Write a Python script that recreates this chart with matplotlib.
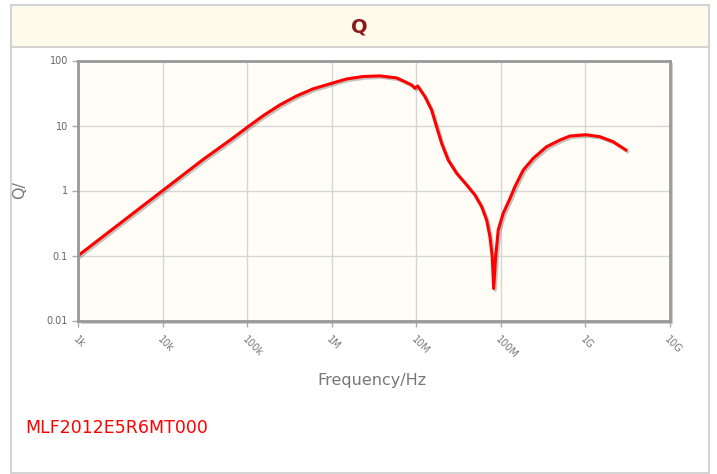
import matplotlib
matplotlib.use("Agg")
import matplotlib.pyplot as plt
import matplotlib.patches as mpatches
import matplotlib.patheffects as pe

# values
freq_hz = [1e3, 3e3, 1e4, 3e4, 6.2e4, 1e5, 1.55e5, 2.44e5, 3.84e5, 6.04e5,
           1.01e6, 1.5e6, 2.36e6, 3.7e6, 5.86e6, 7.35e6, 8.83e6, 9.66e6, 1.04e7,
           1.27e7, 1.52e7, 1.74e7, 2.0e7, 2.39e7, 3.01e7, 3.95e7, 4.95e7,
           5.94e7, 6.81e7, 7.45e7, 7.93e7, 8.24e7, 8.71e7, 9.34e7, 1.07e8,
           1.29e8, 1.47e8, 1.85e8, 2.43e8, 3.49e8, 5.02e8, 6.59e8, 1.02e9,
           1.49e9, 2.14e9, 3.03e9]
q_vals = [0.1, 0.3, 1.0, 3.0, 5.9, 9.4, 14.2, 20.8, 28.5, 36.7,
          44.8, 52, 56.7, 58, 54, 47.2, 42.0, 37.4, 40.5,
          27.7, 17.3, 9.6, 5.3, 2.94, 1.84, 1.22, 0.853,
          0.564, 0.352, 0.195, 0.096, 0.031, 0.096, 0.247, 0.446,
          0.759, 1.14, 2.07, 3.13, 4.72, 5.98, 6.89, 7.21,
          6.73, 5.63, 4.2]

x_ticks = [1e3, 1e4, 1e5, 1e6, 1e7, 1e8, 1e9, 1e10]
x_labels = ['1k', '10k', '100k', '1M', '10M', '100M', '1G', '10G']
y_ticks = [0.01, 0.1, 1, 10, 100]
y_labels = ['0.01', '0.1', '1', '10', '100']

W, H = 717, 474
fig = plt.figure(figsize=(W / 100, H / 100), dpi=100)

def fx(px):
    return px / W

def fy(py):
    return 1 - py / H

# outer frame and title band
fig.patches.append(mpatches.Rectangle((fx(10.7), fy(472.7)), fx(708.7) - fx(10.7), fy(5) - fy(472.7),
                                      transform=fig.transFigure, facecolor='white',
                                      edgecolor='#d4d4d4', lw=1.5, zorder=-3))
fig.patches.append(mpatches.Rectangle((fx(10.7), fy(47)), fx(708.7) - fx(10.7), fy(5) - fy(47),
                                      transform=fig.transFigure, facecolor='#fefaec',
                                      edgecolor='#d4d4d4', lw=1.5, zorder=-2))
fig.text(fx(359), fy(27), 'Q', ha='center', va='center', fontsize=14,
         fontweight='bold', color='#8b1a1a')

left, right, top, bottom = 78.3, 669.7, 60.5, 320.5
# plot shadow
fig.patches.append(mpatches.Rectangle((fx(left + 3), fy(bottom + 3)), fx(right) - fx(left), fy(top) - fy(bottom),
                                      transform=fig.transFigure, facecolor='#d0d0d0',
                                      edgecolor='none', zorder=-1))

ax = fig.add_axes([fx(left), fy(bottom), fx(right) - fx(left), fy(top) - fy(bottom)])
ax.set_facecolor('#fffdf6')
ax.set_xscale('log')
ax.set_yscale('log')
ax.set_xlim(1e3, 1e10)
ax.set_ylim(0.01, 100)

ax.plot(freq_hz, q_vals, color='#ff0000', lw=2.2, solid_joinstyle='round',
        path_effects=[pe.SimpleLineShadow(offset=(1.2, -1.2), shadow_color='#555555', alpha=0.35),
                      pe.Normal()])

ax.set_xticks(x_ticks)
ax.set_xticklabels(x_labels, rotation=-45, ha='left', va='top', rotation_mode='anchor',
                   fontsize=7, color='#777777')
ax.set_yticks(y_ticks)
ax.set_yticklabels(y_labels, fontsize=7, color='#666666')
ax.minorticks_off()
ax.tick_params(axis='both', direction='out', length=4, width=1, color='#aaaaaa')
ax.tick_params(axis='x', pad=6)
ax.grid(True, color='#d6d6d6', lw=1)
ax.set_axisbelow(True)
for sp in ax.spines.values():
    sp.set_color('#999999')
    sp.set_linewidth(2)

fig.text(fx(372), fy(380), 'Frequency/Hz', ha='center', va='center', fontsize=11.5, color='#777777')
fig.text(fx(20), fy(190), 'Q/', ha='center', va='center', rotation=90, fontsize=11.5, color='#777777')
fig.text(fx(25), fy(428), 'MLF2012E5R6MT000', ha='left', va='center', fontsize=12.5, color='#ff0000')

fig.savefig('out.png', dpi=100)
plt.close(fig)
